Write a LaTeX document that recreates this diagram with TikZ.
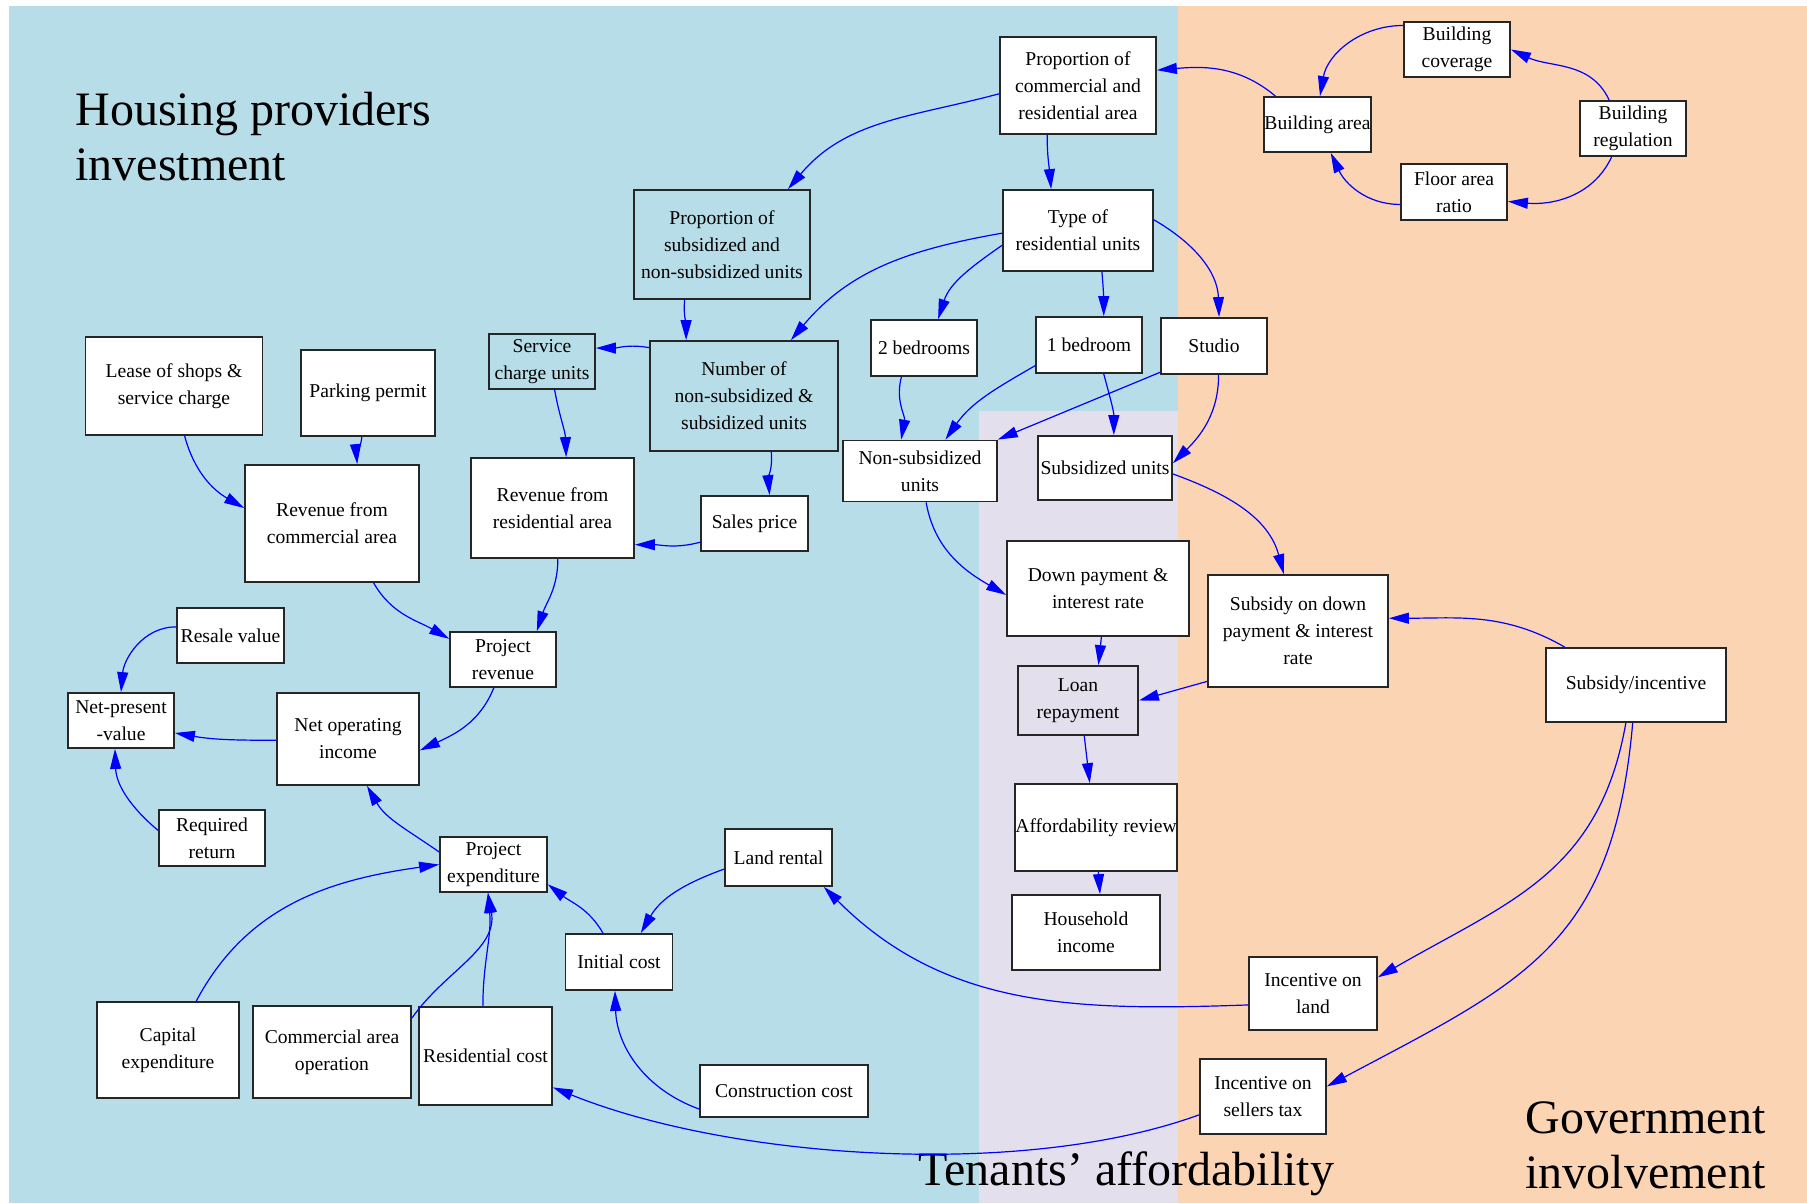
\documentclass[tikz,border=0pt]{standalone}
\usepackage{fontspec}
\setmainfont{Liberation Serif}
\usetikzlibrary{arrows.meta}

\definecolor{provblue}{HTML}{B7DDE8}
\definecolor{tenantlilac}{HTML}{E4DFEC}
\definecolor{govpeach}{HTML}{FBD4B4}

\begin{document}
\begin{tikzpicture}[x=0.5pt,y=0.5pt]
		\tikzstyle{box}=[rectangle, draw=black!85, line width=0.9pt, fill=white, inner sep=0pt, align=center, font=\fontsize{9.8pt}{13.5pt}\selectfont]
		\tikzstyle{clearbox}=[box, fill=none]
		\tikzstyle{link}=[draw=blue, line width=0.6pt, -{Triangle[length=10pt,width=5.5pt]}]
		\tikzstyle{areatitle}=[inner sep=0pt, align=left, font=\fontsize{24pt}{27.5pt}\selectfont]
		\useasboundingbox (0,0) rectangle (1807,-1203);

		% Areas
		\fill[provblue] (9,-6) rectangle (1178,-1203);
		\fill[tenantlilac] (979,-411) rectangle (1178,-1203);
		\fill[govpeach] (1178,-6) rectangle (1807,-1203);
		\node[areatitle, anchor=north west] (housingtitle) at (75,-92) {Housing providers\\investment};
		\node[areatitle, anchor=base west] (tenanttitle) at (918,-1185) {Tenants’ affordability};
		\node[areatitle, anchor=north west] (govtitle) at (1525,-1101) {Government\\involvement};

		% Building rules
		\node[box, minimum width=78pt, minimum height=48.5pt] (pca) at (1078,-85.5) {Proportion of\\commercial and\\residential area};
		\node[box, minimum width=53pt, minimum height=27.5pt] (bcov) at (1457,-49.5) {Building\\coverage};
		\node[box, minimum width=53.5pt, minimum height=27.5pt] (barea) at (1317.5,-124.5) {Building area};
		\node[box, minimum width=53pt, minimum height=27.5pt] (breg) at (1633,-128.5) {Building\\regulation};
		\node[box, minimum width=53pt, minimum height=28pt] (far) at (1454,-192) {Floor area\\ratio};

		% Units
		\node[box, minimum width=75pt, minimum height=40.5pt] (type) at (1078,-230.5) {Type of\\residential units};
		\node[box, minimum width=53pt, minimum height=28pt] (bed2) at (924,-348) {2 bedrooms};
		\node[box, minimum width=53pt, minimum height=28pt] (bed1) at (1089,-345) {1 bedroom};
		\node[box, minimum width=53pt, minimum height=28pt] (studio) at (1214,-346) {Studio};
		\node[clearbox, minimum width=88pt, minimum height=54.5pt] (psub) at (722,-244.5) {Proportion of\\subsidized and\\non-subsidized units};
		\node[clearbox, minimum width=53pt, minimum height=27.5pt] (svc) at (542,-361.5) {Service\\charge units};
		\node[clearbox, minimum width=94pt, minimum height=55pt] (nsu) at (744,-396) {Number of\\non-subsidized \&\\subsidized units};
		\node[box, minimum width=77pt, minimum height=30.5pt] (nonsub) at (920,-471) {Non-subsidized\\units};
		\node[box, minimum width=67pt, minimum height=32pt] (sub) at (1105,-468) {Subsidized units};

		% Revenue
		\node[box, minimum width=88.5pt, minimum height=49pt] (lease) at (174,-386) {Lease of shops \&\\service charge};
		\node[box, minimum width=67pt, minimum height=43pt] (park) at (368,-393) {Parking permit};
		\node[box, minimum width=87pt, minimum height=58.5pt] (revc) at (332,-523.5) {Revenue from\\commercial area};
		\node[box, minimum width=81.5pt, minimum height=50pt] (revr) at (552.5,-508) {Revenue from\\residential area};
		\node[box, minimum width=53.5pt, minimum height=27.5pt] (sales) at (754.5,-523.5) {Sales price};
		\node[box, minimum width=53.5pt, minimum height=27.5pt] (resale) at (230.5,-635.5) {Resale value};
		\node[box, minimum width=53pt, minimum height=27.5pt] (prev) at (503,-659.5) {Project\\revenue};
		\node[box, minimum width=53pt, minimum height=27.5pt] (npv) at (121,-720.5) {Net-present\\-value};
		\node[box, minimum width=71pt, minimum height=46pt] (noi) at (348,-739) {Net operating\\income};
		\node[box, minimum width=53pt, minimum height=28pt] (req) at (212,-838) {Required\\return};

		% Costs
		\node[box, minimum width=53.5pt, minimum height=27.5pt] (pexp) at (493.5,-864.5) {Project\\expenditure};
		\node[box, minimum width=53.5pt, minimum height=28.5pt] (land) at (778.5,-857.5) {Land rental};
		\node[box, minimum width=53.5pt, minimum height=28pt] (init) at (619,-962) {Initial cost};
		\node[box, minimum width=71pt, minimum height=48pt] (capex) at (168,-1050) {Capital\\expenditure};
		\node[box, minimum width=79pt, minimum height=46pt] (cao) at (332,-1052) {Commercial area\\operation};
		\node[box, minimum width=66.5pt, minimum height=49pt] (resc) at (485.5,-1056) {Residential cost};
		\node[box, minimum width=84pt, minimum height=26pt] (cons) at (784,-1091) {Construction cost};

		% Tenants
		\node[box, minimum width=91pt, minimum height=47.5pt] (dp) at (1098,-588.5) {Down payment \&\\interest rate};
		\node[clearbox, minimum width=60pt, minimum height=34.5pt] (loan) at (1078,-700.5) {Loan\\repayment};
		\node[box, minimum width=80pt, minimum height=43.5pt] (aff) at (1096,-827.5) {Affordability review};
		\node[box, minimum width=74pt, minimum height=37.5pt] (hh) at (1086,-932.5) {Household\\income};

		% Government
		\node[box, minimum width=90pt, minimum height=56pt] (sdp) at (1298,-631) {Subsidy on down\\payment \& interest\\rate};
		\node[box, minimum width=90pt, minimum height=37pt] (si) at (1636,-685) {Subsidy/incentive};
		\node[box, minimum width=64pt, minimum height=36.5pt] (incl) at (1313,-993.5) {Incentive on\\land};
		\node[box, minimum width=63pt, minimum height=37.5pt] (incs) at (1263,-1096.5) {Incentive on\\sellers tax};

		% Links
		\draw[link] (barea.146) to[out=140,in=5] (pca.11);
		\draw[link] (bcov.156) to[out=180,in=80] (barea.85);
		\draw[link] (breg.130) to[out=115,in=-25] (bcov.0);
		\draw[link] (breg.-127) to[out=-115,in=-5] (far.-10);
		\draw[link] (far.-167) to[out=180,in=-65] (barea.-65);
		\draw[link] (pca.-122) to[out=-90,in=95] (type.123);
		\draw[link] (pca.186) to[out=195,in=50] (psub.40);
		\draw[link] (type.182) to[out=190,in=50] (nsu.50);
		\draw[link] (type.191) to[out=215,in=72] (bed2.64);
		\draw[link] (type.-60) to[out=-85,in=90] (bed1.63);
		\draw[link] (type.8) to[out=-30,in=92] (studio.80);
		\draw[link] (psub.-124) to[out=-95,in=90] (nsu.136);
		\draw[link] (nsu.153) to[out=170,in=0] (svc.14);
		\draw[link] (svc.-66) to[out=-80,in=92] (revr.75);
		\draw[link] (nsu.-64) to[out=-85,in=95] (sales.62);
		\draw[link] (sales.199) to[out=195,in=0] (revr.-24);
		\draw[link] (lease.-78) to[out=-75,in=150] (revc.170);
		\draw[link] (park.-98) to[out=-95,in=95] (revc.67);
		\draw[link] (revc.-55) to[out=-60,in=150] (prev.159);
		\draw[link] (revr.-84) to[out=-90,in=72] (prev.40);
		\draw[link] (prev.-108) to[out=-112,in=25] (noi.-9);
		\draw[link] (noi.181) to[out=180,in=-10] (npv.-13);
		\draw[link] (resale.171) to[out=180,in=85] (npv.90);
		\draw[link] (req.172) to[out=140,in=-88] (npv.-102);
		\draw[link] (pexp.167) to[out=145,in=-60] (noi.-68);
		\draw[link] (capex.60) to[out=62,in=188] (pexp.180);
		\draw[link] (cao.23) to[out=55,in=-80] (pexp.-101);
		\draw[link] (resc.93) to[out=90,in=-85] (pexp.-101);
		\draw[link] (init.119) to[out=120,in=-38] (pexp.-20);
		\draw[link] (land.192) to[out=200,in=60] (init.53);
		\draw[link] (cons.192) to[out=160,in=-88] (init.-98);
		\draw[link] (incl.190) to[out=182,in=-45] (land.-33);
		\draw[link] (incs.196) to[out=200,in=-22,looseness=0.75] (resc.-25);
		\draw[link] (si.-105) to[out=-100,in=30,looseness=1.1] (incl.14);
		\draw[link] (si.-95) to[out=-95,in=28,looseness=1.2] (incs.9);
		\draw[link] (si.152) to[out=150,in=0] (sdp.8);
		\draw[link] (sdp.209) -- (loan.0);
		\draw[link] (dp.-86) -- (loan.60);
		\draw[link] (loan.-80) -- (aff.98);
		\draw[link] (aff.-87) -- (hh.70);
		\draw[link] (sub.-5) to[out=-20,in=105] (sdp.104);
		\draw[link] (studio.-81) to[out=-90,in=45] (sub.4);
		\draw[link] (bed1.-63) to[out=-75,in=90] (sub.75);
		\draw[link] (bed1.201) to[out=210,in=55] (nonsub.51);
		\draw[link] (studio.206) -- (nonsub.22);
		\draw[link] (bed2.-128) to[out=-105,in=80] (nonsub.121);
		\draw[link] (nonsub.-79) to[out=-80,in=150] (dp.184);
	\end{tikzpicture}
\end{document}
